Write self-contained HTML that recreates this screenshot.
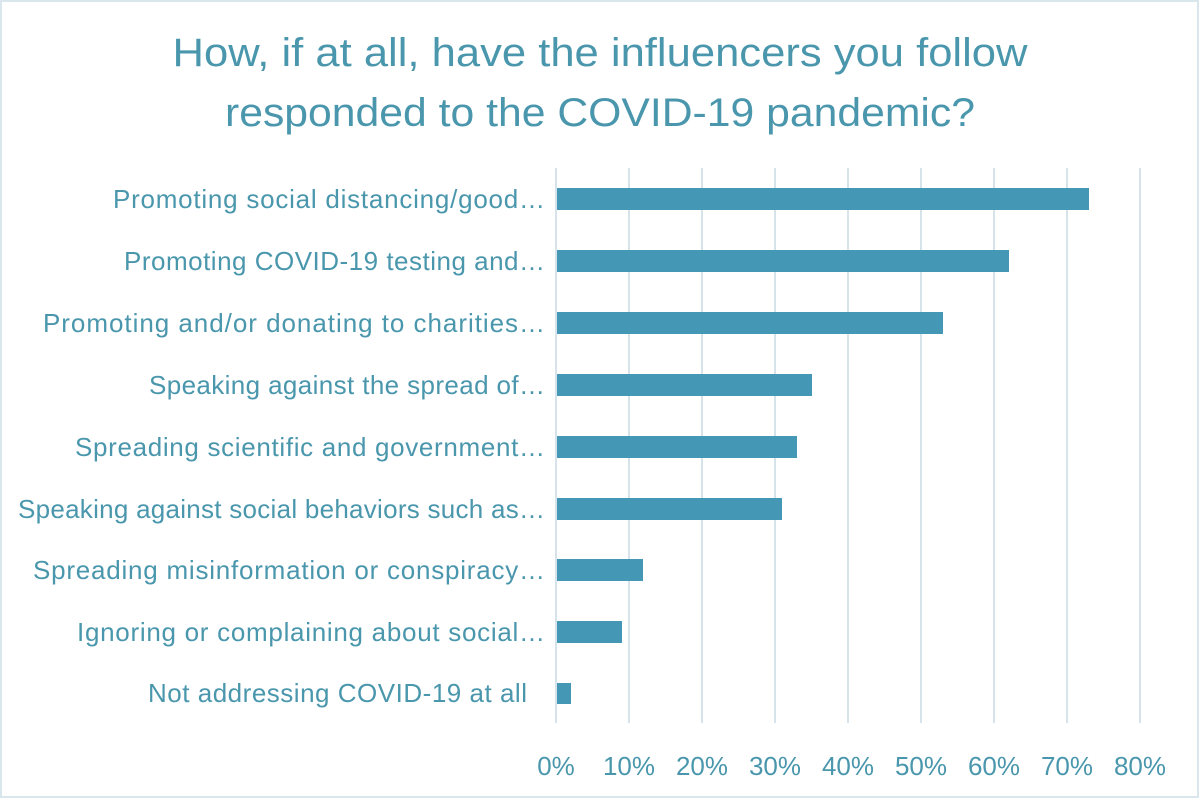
<!DOCTYPE html>
<html><head><style>html,body{margin:0;padding:0;background:#fff}svg{display:block}</style></head>
<body>
<svg width="1200" height="802" xmlns="http://www.w3.org/2000/svg" font-family="Liberation Sans, sans-serif">
<rect x="1" y="1" width="1197" height="796" fill="#fff" stroke="#d9e6ec" stroke-width="2"/>
<g fill="#4a97ad" font-size="40" text-anchor="middle">
<text x="600" y="66" textLength="855" lengthAdjust="spacingAndGlyphs">How, if at all, have the influencers you follow</text>
<text x="600" y="126" textLength="750" lengthAdjust="spacingAndGlyphs">responded to the COVID-19 pandemic?</text>
</g>
<g stroke="#d6e3ea" stroke-width="2">
<line x1="556" y1="168" x2="556" y2="723"/><line x1="629" y1="168" x2="629" y2="723"/>
<line x1="702" y1="168" x2="702" y2="723"/><line x1="775" y1="168" x2="775" y2="723"/>
<line x1="848" y1="168" x2="848" y2="723"/><line x1="921" y1="168" x2="921" y2="723"/>
<line x1="994" y1="168" x2="994" y2="723"/><line x1="1067" y1="168" x2="1067" y2="723"/>
<line x1="1140" y1="168" x2="1140" y2="723"/>
</g>
<g fill="#4598b5">
<rect x="557" y="188" width="532" height="22"/>
<rect x="557" y="250" width="452" height="22"/>
<rect x="557" y="312" width="386" height="22"/>
<rect x="557" y="374" width="255" height="22"/>
<rect x="557" y="436" width="240" height="22"/>
<rect x="557" y="498" width="225" height="22"/>
<rect x="557" y="559" width="86" height="22"/>
<rect x="557" y="621" width="65" height="22"/>
<rect x="557" y="683" width="14" height="21"/>
</g>
<g fill="#4a97ad" font-size="26" text-anchor="end" lengthAdjust="spacingAndGlyphs">
<text x="545" y="208" textLength="432">Promoting social distancing/good…</text>
<text x="545" y="270" textLength="421">Promoting COVID-19 testing and…</text>
<text x="545" y="332" textLength="502">Promoting and/or donating to charities…</text>
<text x="545" y="394" textLength="396">Speaking against the spread of…</text>
<text x="545" y="456" textLength="470">Spreading scientific and government…</text>
<text x="545" y="518" textLength="527">Speaking against social behaviors such as…</text>
<text x="545" y="579" textLength="512">Spreading misinformation or conspiracy…</text>
<text x="545" y="641" textLength="468">Ignoring or complaining about social…</text>
<text x="527" y="702" textLength="379">Not addressing COVID-19 at all</text>
</g>
<g fill="#4a97ad" font-size="26" text-anchor="middle">
<text x="556" y="775">0%</text><text x="629" y="775">10%</text><text x="702" y="775">20%</text>
<text x="775" y="775">30%</text><text x="848" y="775">40%</text><text x="921" y="775">50%</text>
<text x="994" y="775">60%</text><text x="1067" y="775">70%</text><text x="1140" y="775">80%</text>
</g>
</svg>
</body></html>
